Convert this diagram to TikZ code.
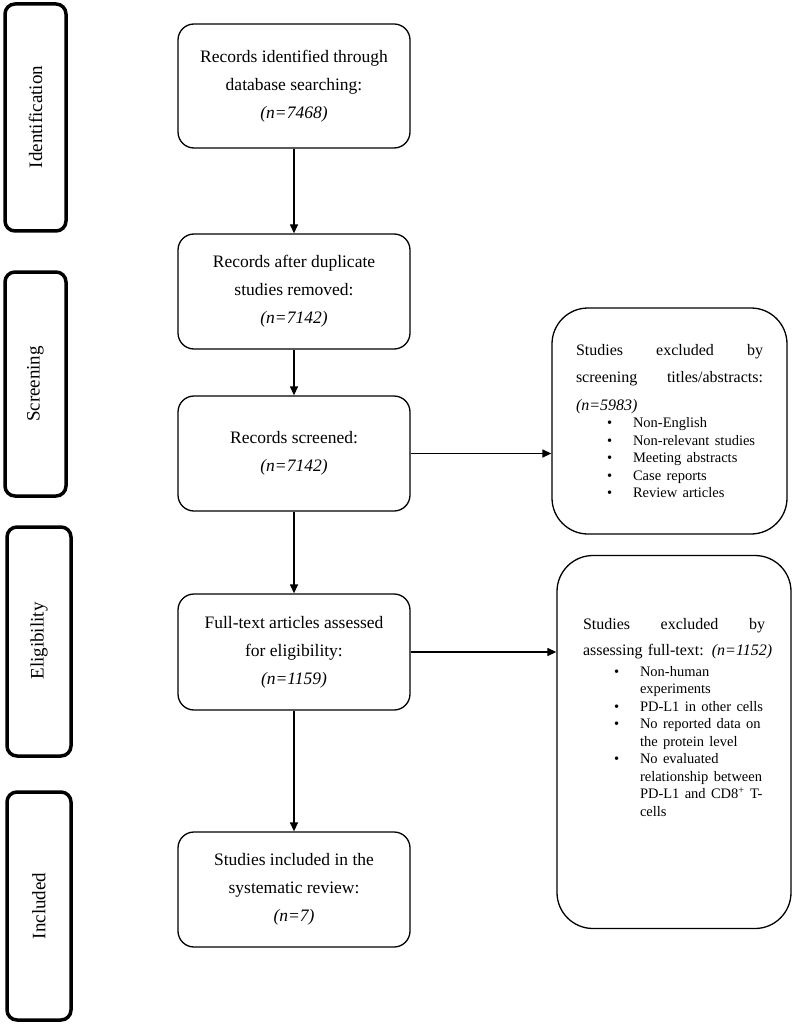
\documentclass[tikz,border=0pt]{standalone}
\usepackage{fontspec}
\setmainfont{Liberation Serif}
\usetikzlibrary{arrows.meta}
\newcommand\itm[1]{\hspace*{31pt}\makebox[26pt][l]{\textbullet}#1}
\newcommand\cont[1]{\hspace*{57pt}#1}
\begin{document}
\begin{tikzpicture}[x=1pt,y=-1pt,
  phase/.style={draw,line width=3.5pt,rounded corners=10pt},
  phaselabel/.style={rotate=90,font=\fontsize{19}{22}\selectfont},
  mainbox/.style={draw,line width=1.3pt,rounded corners=16pt,minimum width=232pt,align=center,
    font=\fontsize{17.5}{28}\selectfont,inner sep=0pt},
  exclbox/.style={draw,line width=1.3pt,rounded corners=36pt,inner sep=0pt,align=left,
    font=\fontsize{16}{17.5}\selectfont},
  arr/.style={line width=1.3pt,-{Triangle[length=9pt,width=8pt]}}]
\useasboundingbox (0,0) rectangle (794,1024);
% phase bars
\draw[phase] (5,4) rectangle (66,231);
\draw[phase] (5,272) rectangle (66,496);
\draw[phase] (7,527) rectangle (71,756);
\draw[phase] (7,792) rectangle (71,1020);
\node[phaselabel] (lid) at (35.5,117) {Identification};
\node[phaselabel] (lsc) at (35.5,384) {Screening};
\node[phaselabel] (lel) at (39,641) {Eligibility};
\node[phaselabel] (lin) at (39,906) {Included};
% main boxes
\node[mainbox,minimum height=124pt] (b1) at (294,86) {Records identified through\\database searching:\\\textit{(n=7468)}};
\node[mainbox,minimum height=115pt] (b2) at (294,291.5) {Records after duplicate\\studies removed:\\\textit{(n=7142)}};
\node[mainbox,minimum height=115pt] (b3) at (294,453.5) {Records screened:\\\textit{(n=7142)}};
\node[mainbox,minimum height=116pt] (b4) at (294,652) {Full-text articles assessed\\for eligibility:\\\textit{(n=1159)}};
\node[mainbox,minimum height=115pt] (b5) at (294,889.5) {Studies included in the\\systematic review:\\\textit{(n=7)}};
% exclusion boxes
\node[exclbox,minimum width=235pt,minimum height=226pt,text width=187pt] (e1) at (669.5,421)
{\makebox[187pt][s]{Studies\hfill excluded\hfill by}\\[10pt]
\makebox[187pt][s]{screening\hfill titles/abstracts:}\\[10pt]
\textit{(n=5983)}\\
{\fontsize{14.5}{17.5}\selectfont
\itm{Non-English}\\
\itm{Non-relevant studies}\\
\itm{Meeting abstracts}\\
\itm{Case reports}\\
\itm{Review articles}}};
\node[exclbox,minimum width=234pt,minimum height=373pt,text width=182pt] (e2) at (674,742)
{\makebox[182pt][s]{Studies\hfill excluded\hfill by}\\[9pt]
\mbox{assessing full-text: \textit{(n=1152)}}\\[3pt]
{\fontsize{14.5}{17.5}\selectfont
\itm{Non-human}\\
\cont{experiments}\\
\itm{PD-L1 in other cells}\\
\itm{No reported data on}\\
\cont{the protein level}\\
\itm{No evaluated}\\
\cont{relationship between}\\
\cont{PD-L1 and CD8\textsuperscript{+} T-}\\
\cont{cells}}\\[32pt]\mbox{}};
% connectors
\draw[arr] (b1.south) -- (b2.north);
\draw[arr] (b2.south) -- (b3.north);
\draw[arr] (b3.south) -- (b4.north);
\draw[arr] (b4.south) -- (b5.north);
\draw[arr] (b3.east) -- (b3.east -| e1.west);
\draw[arr] (b4.east) -- (b4.east -| e2.west);
\end{tikzpicture}
\end{document}
